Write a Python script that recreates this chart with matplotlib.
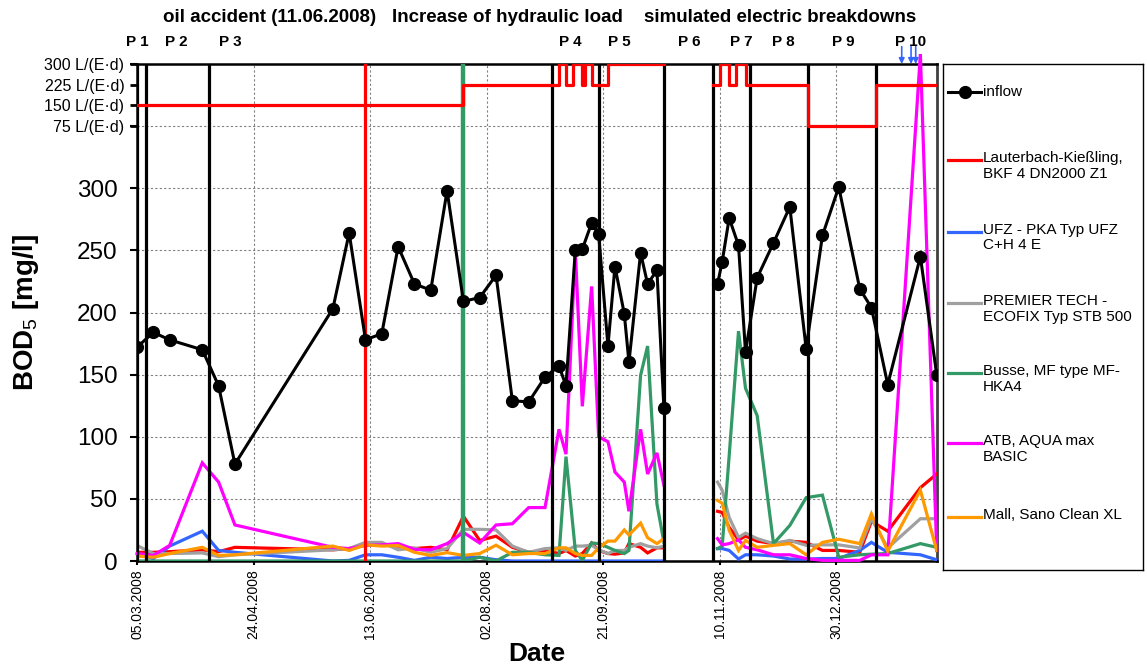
import numpy as np
import matplotlib
matplotlib.use("Agg")
import matplotlib.pyplot as plt
import matplotlib.dates as mdates
import matplotlib.transforms as mtransforms

plt.rcParams['font.family'] = ['Liberation Sans', 'DejaVu Sans']
plt.rcParams['mathtext.fontset'] = 'custom'
plt.rcParams['mathtext.rm'] = 'Liberation Sans'

nan = np.nan

# ---------------- data ----------------
sample_dates = ['2008-03-05', '2008-03-12', '2008-03-19', '2008-04-02', '2008-04-09', '2008-04-16',
                '2008-05-28', '2008-06-04', '2008-06-11', '2008-06-18', '2008-06-25', '2008-07-02', '2008-07-09',
                '2008-07-16', '2008-07-23', '2008-07-30', '2008-08-06', '2008-08-13', '2008-08-20', '2008-08-27',
                '2008-09-02', '2008-09-05', '2008-09-09', '2008-09-12', '2008-09-16', '2008-09-19', '2008-09-23',
                '2008-09-26', '2008-09-30', '2008-10-02', '2008-10-07', '2008-10-10', '2008-10-14', '2008-10-17',
                '2008-10-28',
                '2008-11-09', '2008-11-11', '2008-11-14', '2008-11-18', '2008-11-21', '2008-11-26', '2008-12-03',
                '2008-12-10', '2008-12-17', '2008-12-24', '2008-12-31', '2009-01-09', '2009-01-14', '2009-01-21',
                '2009-02-04', '2009-02-11']

inflow = [172, 184, 178, 170, 141, 78,
          203, 264, 178, 183, 253, 223, 218,
          298, 209, 212, 230, 129, 128, 148,
          157, 141, 250, 251, 272, 263, 173,
          237, 199, 160, 248, 223, 234, 123,
          nan,
          223, 241, 276, 254, 168, 228, 256,
          285, 171, 262, 301, 219, 204, 142,
          245, 150]

lauterbach = [7, 7, 7.5, 9, 7.5, 11,
              9, 10, 13.5, 13.5, 12, 10, 11,
              9, 36, 16.5, 20, 11, 7, 8.5,
              6, 8.5, 4, 6, 14.5, 8.5, 6,
              5.5, 6.5, 14, 11, 6.5, 10.6, 10.6,
              nan,
              40, 39, 27, 17, 20, 16, 14,
              16, 15, 8.5, 8.5, 7, 32, 24,
              59, 70]

ufz = [6, 2, 12, 24, 8.5, 7,
       0, 0.5, 5, 5, 3, 0.5, 3,
       2, 3, 3, 1, 0, 0, 0,
       0, 0, 0, 0, 0, 0, 0,
       0, 0, 0, 0, 0, 0, 0,
       nan,
       10, 10, 8.5, 1.6, 5, 5, 4,
       1.6, 1.5, 2, 2, 8.5, 15, 7,
       5, 1]

premier = [12.5, 6, 6, 6.5, 3.5, 5,
           9, 10, 15, 15, 9, 10.5, 7,
           10, 25.5, 25.5, 25, 12, 7, 10,
           10.6, 8.5, 12, 12, 12.7, 9, 6,
           8.5, 8.5, 11, 14, 12, 10.6, 12,
           nan,
           63.5, 57, 35, 19, 22.4, 18, 14,
           16.6, 12.6, 13, 13, 10.5, 34, 10.5,
           34, 34]

busse = [0, 0, 0, 0, 0, 0,
         0, 0, 0, 0, 0, 0, 0,
         0, 0, 3, 0, 7, 7, 5,
         4.5, 84, 8.5, 0.5, 14.5, 14, 11,
         8.5, 6, 8.5, 149.5, 173, 46, 15,
         nan,
         10, 12, 85, 185, 139, 117, 14,
         28.6, 51, 53, 3, 5, 5.5, 6,
         14, 11]

atb = [6, 4.5, 12.5, 79, 63.5, 29,
       11, 10, 12.5, 13, 14, 9.3, 9,
       14, 23, 14.5, 29, 30, 43, 43,
       106, 86, 250, 124.5, 221, 100, 96,
       71.6, 63.5, 40, 106, 70, 87, 61,
       nan,
       18, 13, 14, 17, 11, 9, 5,
       5, 2, 0.5, 0.5, 0.5, 5, 5,
       408, 8.5]

mall = [4, 3, 6, 11, 4.5, 5,
        12, 8.5, 13, 12, 12.5, 7, 4.5,
        6.7, 4.5, 6, 12.7, 5, 6, 6,
        10.6, 10.6, 6, 4.5, 4.5, 10.6, 16,
        16, 25, 21, 30.5, 18.7, 14, 18,
        nan,
        48.8, 46.5, 24.6, 8.5, 16.5, 11, 12.6,
        14, 5, 15, 17.5, 14, 38, 8,
        57, 8.5]

series_labels = ['Lauterbach-Kießling,\nBKF 4 DN2000 Z1',
                 'UFZ - PKA Typ UFZ\nC+H 4 E',
                 'PREMIER TECH -\nECOFIX Typ STB 500',
                 'Busse, MF type MF-\nHKA4',
                 'ATB, AQUA max\nBASIC',
                 'Mall, Sano Clean XL']

# hydraulic load (L/(E·d)) step schedule
load_dates = ['2008-03-05', '2008-07-23', '2008-09-02', '2008-09-05', '2008-09-08', '2008-09-12',
              '2008-09-13', '2008-09-16', '2008-09-23', '2008-10-17', '2008-11-07', '2008-11-10',
              '2008-11-14', '2008-11-17', '2008-11-21', '2008-12-18', '2009-01-16', '2009-02-11']
load_values = [150, 225, 300, 225, 300, 225,
               300, 225, 300, nan, 225, 300,
               225, 300, 225, 75, 225, 225]
load_ticks = [75, 150, 225, 300]

period_bounds = ['2008-03-05', '2008-03-09', '2008-04-05', '2008-08-30', '2008-09-19',
                 '2008-10-17', '2008-11-07', '2008-11-23', '2008-12-18', '2009-01-16']
period_names = ['P 1', 'P 2', 'P 3', 'P 4', 'P 5', 'P 6', 'P 7', 'P 8', 'P 9', 'P 10']
period_label_dates = ['2008-03-05', '2008-03-22', '2008-04-14', '2008-09-07', '2008-09-28',
                      '2008-10-28', '2008-11-19', '2008-12-07', '2009-01-02', '2009-01-31']

oil_accident_date = '2008-06-11'
load_increase_date = '2008-07-23'
breakdown_dates = ['2009-01-27', '2009-01-31', '2009-02-02']

event_titles = ['oil accident (11.06.2008)', 'Increase of hydraulic load', 'simulated electric breakdowns']
event_title_dates = ['2008-05-01', '2008-08-11', '2008-12-06']

tick_dates = ['2008-03-05', '2008-04-24', '2008-06-13', '2008-08-02', '2008-09-21', '2008-11-10', '2008-12-30']
x_limits = ['2008-03-05', '2009-02-11']

# ---------------- styling ----------------
RED = '#FF0000'
BLUE = '#3366FF'
GRAY = '#A0A0A0'
GREEN = '#339966'
MAGENTA = '#FF00FF'
ORANGE = '#FF9900'
series = [lauterbach, ufz, premier, busse, atb, mall]
colors = [RED, BLUE, GRAY, GREEN, MAGENTA, ORANGE]


def d(lst):
    return mdates.date2num(np.array(lst, dtype='datetime64[D]'))


W, H = 1147, 667


def fx(px):
    return px / W


def fy(py):
    return 1 - py / H


fig = plt.figure(figsize=(W / 100, H / 100), dpi=100)
L, R, T, B = 137, 936.7, 64, 561
ax = fig.add_axes([fx(L), fy(B), fx(R) - fx(L), fy(T) - fy(B)])

x = d(sample_dates)
for vals, c in zip(series, colors):
    ax.plot(x, vals, color=c, lw=2.3, zorder=3, clip_on=(c != MAGENTA), solid_joinstyle='miter')
ax.plot(x, inflow, color='black', lw=2.2, marker='o', ms=8.5, zorder=6)

for pd_ in d(period_bounds):
    ax.axvline(pd_, color='black', lw=2.3, zorder=5)
ax.axvline(d([oil_accident_date])[0], color=RED, lw=2.3, zorder=5)
ax.axvline(d([load_increase_date])[0], color=GREEN, lw=3.2, zorder=5)

ax.set_xlim(d(x_limits))
ax.set_ylim(0, 400)
ax.set_yticks(np.arange(0, 401, 50))
ax.set_yticklabels([str(v) if v <= 300 else '' for v in range(0, 401, 50)])
ax.set_xticks(d(tick_dates))
ax.xaxis.set_major_formatter(mdates.DateFormatter('%d.%m.%Y'))
ax.tick_params(axis='x', rotation=90, labelsize=10, direction='out', length=3, width=1.5, pad=3)
ax.tick_params(axis='y', labelsize=17.5, direction='out', length=5, width=1.5, pad=9)
ax.grid(True, color='#808080', linestyle=(0, (2, 2)), lw=0.8)
ax.set_axisbelow(True)
for s in ['left', 'bottom', 'top']:
    ax.spines[s].set_color('black')
    ax.spines[s].set_linewidth(1.8)
ax.spines['right'].set_color('#404040')
ax.spines['right'].set_linewidth(2)

ax.set_xlabel('Date', fontsize=19, fontweight='bold', labelpad=2)
ax.set_ylabel('BOD$_5$ [mg/l]', fontsize=20, fontweight='bold', labelpad=26)

# upper hydraulic load panel (upper sixth of the plot)
frac = 1 / 6
axl = fig.add_axes([fx(L), fy(T) - frac * (fy(T) - fy(B)), fx(R) - fx(L), frac * (fy(T) - fy(B))], sharex=ax)
axl.patch.set_visible(False)
for s in axl.spines.values():
    s.set_visible(False)
axl.plot(d(load_dates), load_values, drawstyle='steps-post', color=RED, lw=2.3, zorder=4)
axl.set_ylim(0, 300)
axl.set_yticks(load_ticks)
axl.set_yticklabels([f'{v} L/(E·d)' for v in load_ticks])
axl.tick_params(axis='y', labelsize=11.5, direction='out', length=5, width=2, pad=4)
axl.tick_params(axis='x', bottom=False, labelbottom=False)

# breakdown arrows
for bd in d(breakdown_dates):
    ax.annotate('', xy=(bd, 1.0), xycoords=('data', 'axes fraction'),
                xytext=(bd, 1.035), textcoords=('data', 'axes fraction'),
                arrowprops=dict(arrowstyle='-|>', color=BLUE, lw=1.2, mutation_scale=8,
                                shrinkA=0, shrinkB=0), annotation_clip=False)

# period labels and event titles
top_tr = mtransforms.blended_transform_factory(ax.transData, fig.transFigure)
for name, pdx in zip(period_names, d(period_label_dates)):
    ax.text(pdx, fy(42), name, transform=top_tr,
            ha='center', va='center', fontsize=11, fontweight='bold')
for t, tdx in zip(event_titles, d(event_title_dates)):
    ax.text(tdx, fy(17), t, transform=top_tr,
            ha='center', va='center', fontsize=13.5, fontweight='bold')

# legend panel
LL, LR, LT, LB = 943, 1143, 64, 570
lg = fig.add_axes([fx(LL), fy(LB), fx(LR) - fx(LL), fy(LT) - fy(LB)])
lg.set_xlim(0, LR - LL)
lg.set_ylim(LB - LT, 0)
lg.set_xticks([])
lg.set_yticks([])
for s in lg.spines.values():
    s.set_color('black')
    s.set_linewidth(1)
rows = [27.7, 96, 167.7, 239, 309, 379, 452.7]
lg.plot([5, 38], [rows[0], rows[0]], color='black', lw=2.2)
lg.plot([21.5], [rows[0]], color='black', marker='o', ms=8.5)
lg.text(40, rows[0], 'inflow', fontsize=11, va='center', ha='left')
for yy, lab, c in zip(rows[1:], series_labels, colors):
    lg.plot([5, 38], [yy, yy], color=c, lw=2.3)
    lg.text(40, yy - 9, lab, fontsize=11, va='top', ha='left', linespacing=1.15)

fig.savefig('out.png', dpi=100)
